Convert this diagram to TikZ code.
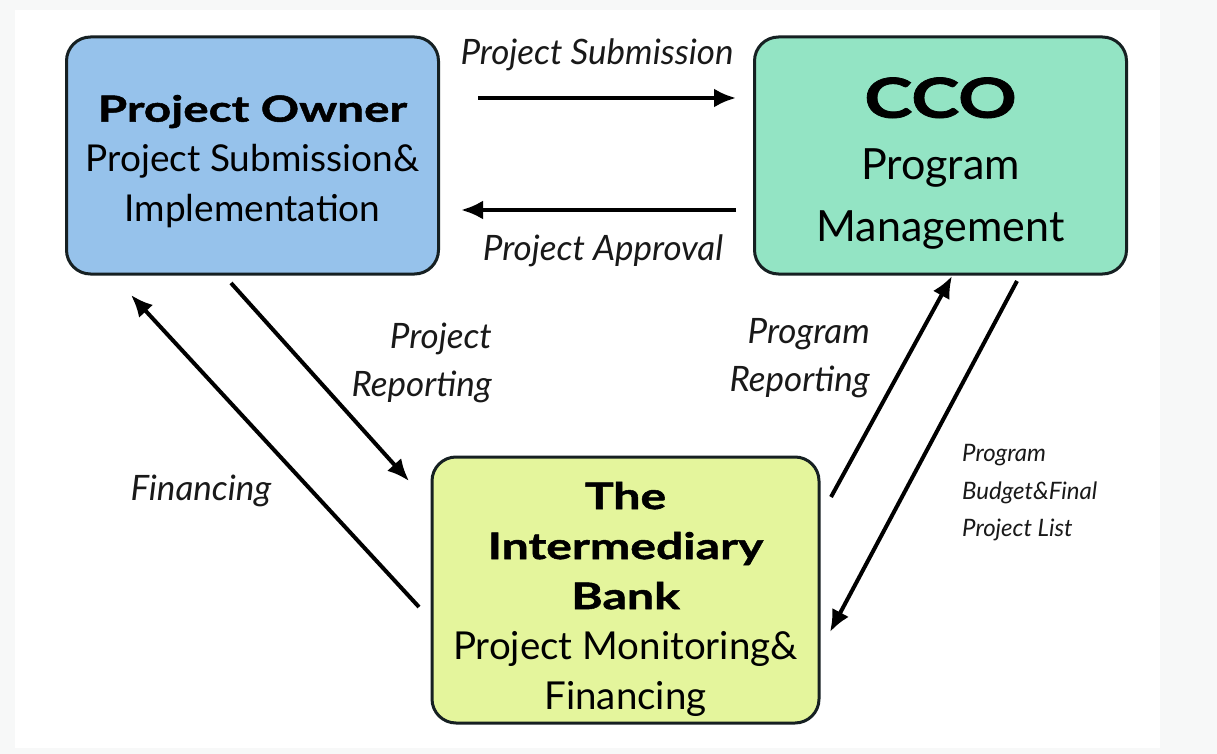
\documentclass[tikz,border=0pt]{standalone}
\usepackage{fontspec}
\setmainfont{Lato}
\newfontfamily\heavy[FakeStretch=1.32,FakeBold=1.4]{Lato}
\usetikzlibrary{arrows.meta}
\definecolor{bgc}{RGB}{247,248,248}
\definecolor{pofill}{RGB}{150,194,235}
\definecolor{ccofill}{RGB}{147,228,196}
\definecolor{bankfill}{RGB}{228,245,156}
\definecolor{edge}{RGB}{22,32,34}
\begin{document}
\begin{tikzpicture}[x=1pt,y=-1pt,
  box/.style={draw=edge, line width=3pt, rounded corners=24pt, inner sep=0pt},
  boxtext/.style={align=center, inner sep=0pt, text=black},
  flow/.style={line width=4pt, -{Latex[length=22pt,width=19pt]}},
  lbl/.style={font=\itshape\fontsize{35}{48}\selectfont, text=black!90, inner sep=0pt},
  smalllbl/.style={font=\itshape\fontsize{24}{37.5}\selectfont, text=black!90, inner sep=0pt}]
\useasboundingbox (0,0) rectangle (1217,754);
\fill[bgc] (0,0) rectangle (1217,754);
\fill[white] (15,10) rectangle (1160,748);

\node[box, fill=pofill, minimum width=372pt, minimum height=237pt] (po) at (252.5,155.5) {};
\node[boxtext, font=\fontsize{37}{50}\selectfont] (potext) at ([yshift=-6pt]po.center)
  {{\heavy\bfseries\fontsize{36}{50}\selectfont Project Owner}\\Project Submission\&\\Implementation};

\node[box, fill=ccofill, minimum width=372pt, minimum height=237pt] (cco) at (940.5,155.5) {};
\node[boxtext, font=\fontsize{43}{62}\selectfont] (ccotext) at ([yshift=-8pt]cco.center)
  {{\heavy\bfseries\fontsize{55}{62}\selectfont CCO}\\Program\\Management};

\node[box, fill=bankfill, minimum width=387pt, minimum height=266pt] (bank) at (625.5,590) {};
\node[boxtext, font=\fontsize{38.5}{50}\selectfont] (banktext) at ([yshift=-9pt]bank.center)
  {{\heavy\bfseries\fontsize{36.5}{50}\selectfont The}\\{\heavy\bfseries\fontsize{36.5}{50}\selectfont Intermediary}\\{\heavy\bfseries\fontsize{36.5}{50}\selectfont Bank}\\Project Monitoring\&\\Financing};

\coordinate (ps1) at (478,98);   \coordinate (ps2) at (736,98);
\coordinate (pa1) at (736,210);  \coordinate (pa2) at (461,210);
\coordinate (pr1) at (231,283);  \coordinate (pr2) at (409,481);
\coordinate (fi1) at (419,607);  \coordinate (fi2) at (131,295);
\coordinate (gr1) at (831,497);  \coordinate (gr2) at (952,276);
\coordinate (gb1) at (1017,281); \coordinate (gb2) at (830,632);

\draw[flow] (ps1) -- (ps2);
\draw[flow] (pa1) -- (pa2);
\draw[flow] (pr1) -- (pr2);
\draw[flow] (fi1) -- (fi2);
\draw[flow] (gr1) -- (gr2);
\draw[flow] (gb1) -- (gb2);

\node[lbl] (lps) at (597,55) {Project Submission};
\node[lbl] (lpa) at (603,251) {Project Approval};
\node[lbl, align=right, anchor=east] (lpr) at (492,363) {Project\\Reporting};
\node[lbl, align=right, anchor=east] (lgr) at (870,358) {Program\\Reporting};
\node[lbl] (lfi) at (201,491) {Financing};
\node[smalllbl, align=left, anchor=west] (lgb) at (962,493) {Program\\Budget\&Final\\Project List};
\end{tikzpicture}
\end{document}
